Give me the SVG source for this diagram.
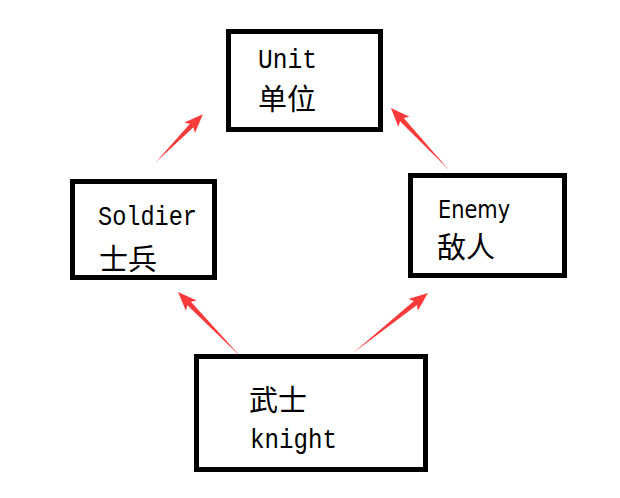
<svg xmlns="http://www.w3.org/2000/svg" width="620" height="498" viewBox="0 0 620 498">
<style>
.box{fill:#fff;stroke:#000;stroke-width:5}
.mono{font-family:"Liberation Mono","DejaVu Sans Mono",monospace;font-size:27px;fill:#000}
.sans{font-family:"DejaVu Sans","Liberation Sans",sans-serif;font-size:25px;fill:#000}
.cjk{font-family:"Noto Sans CJK SC","Noto Sans CJK JP",sans-serif;font-size:29px;fill:#000}
.arrow{fill:#f83a3a}
</style>
<rect width="620" height="498" fill="#fff"/>
<g id="connectors">
<polygon class="arrow" transform="translate(156,162) rotate(-45.6)" points="0,0 51,-2.5 48,-7.5 67,0 48,7.5 51,2.5"/>
<polygon class="arrow" transform="translate(449,170) rotate(-133.1)" points="0,0 69,-2.5 66,-7.5 85,0 66,7.5 69,2.5"/>
<polygon class="arrow" transform="translate(241,357) rotate(-134.1)" points="0,0 74.5,-2.5 71.5,-7.5 90.5,0 71.5,7.5 74.5,2.5"/>
<polygon class="arrow" transform="translate(353,353) rotate(-38.66)" points="0,0 80,-2.5 77,-7.5 96,0 77,7.5 80,2.5"/>
</g>
<g id="unit">
<rect class="box" x="228.5" y="31.5" width="152" height="98"/>
<text class="mono" x="258" y="68" textLength="59" lengthAdjust="spacingAndGlyphs">Unit</text>
<text class="cjk" x="258" y="110">单位</text>
</g>
<g id="soldier">
<rect class="box" x="72.5" y="181.5" width="142" height="96"/>
<text class="mono" x="98" y="225" textLength="99" lengthAdjust="spacingAndGlyphs">Soldier</text>
<text class="cjk" x="99" y="270">士兵</text>
</g>
<g id="enemy">
<rect class="box" x="410.5" y="175.5" width="154" height="100"/>
<text class="sans" x="438" y="218" textLength="72" lengthAdjust="spacingAndGlyphs">Enemy</text>
<text class="cjk" x="437" y="258">敌人</text>
</g>
<g id="knight">
<rect class="box" x="196.5" y="356.5" width="229" height="113"/>
<text class="cjk" x="249" y="411">武士</text>
<text class="mono" x="250" y="448" textLength="87" lengthAdjust="spacingAndGlyphs">knight</text>
</g>
</svg>
